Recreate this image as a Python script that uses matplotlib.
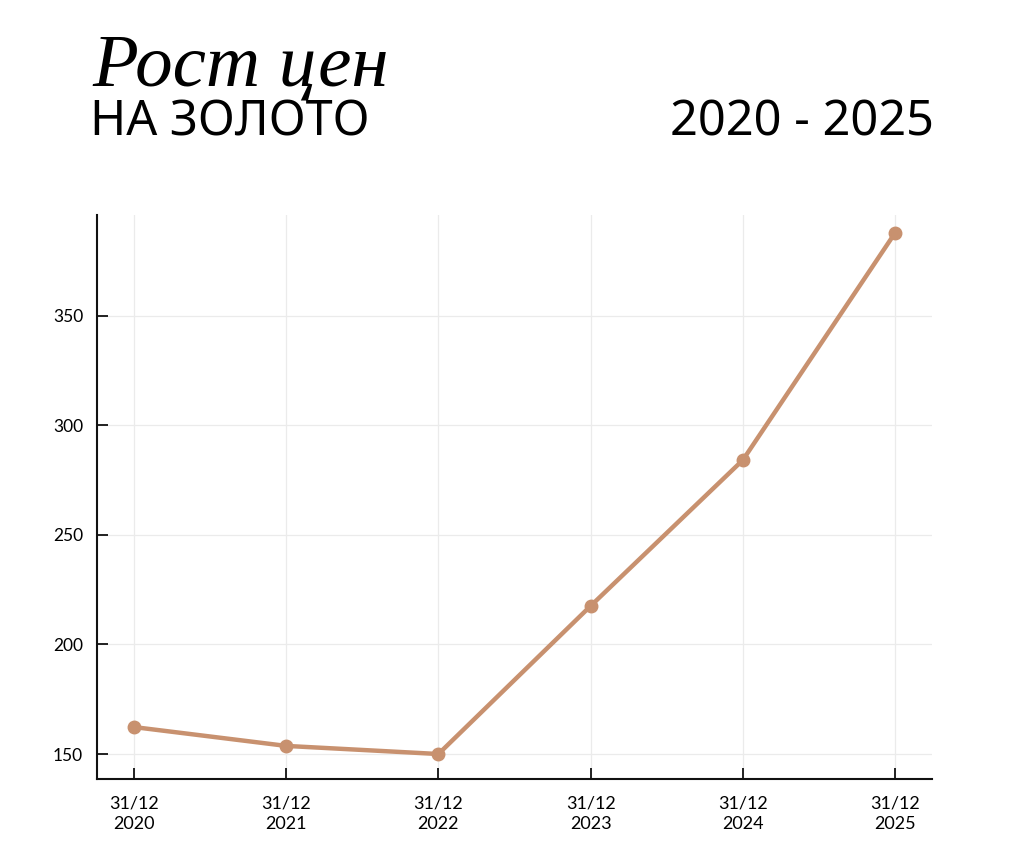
import matplotlib
matplotlib.use("Agg")
import matplotlib.pyplot as plt

years = ["2020", "2021", "2022", "2023", "2024", "2025"]
x_labels = ["31/12\n2020", "31/12\n2021", "31/12\n2022", "31/12\n2023", "31/12\n2024", "31/12\n2025"]
prices = [162.3, 153.7, 150.0, 217.6, 284.2, 387.9]
y_ticks = [150, 200, 250, 300, 350]

color = "#C8916F"

fig = plt.figure(figsize=(10.24, 8.64), dpi=100)
ax = fig.add_axes([0.0947, 0.0984, 0.8155, 0.6528])

xs = list(range(len(years)))
ax.plot(xs, prices, color=color, linewidth=3.2, marker="o", markersize=9, zorder=3)

ax.set_xlim(-0.243, 5.243)
ax.set_ylim(138.6, 396.1)
ax.set_xticks(xs)
ax.set_xticklabels(x_labels, fontsize=13, family="Lato", linespacing=1.35)
ax.set_yticks(y_ticks)
ax.set_yticklabels([str(v) for v in y_ticks], fontsize=12.5, family="Lato")

ax.grid(True, color="#EBEBEB", linewidth=0.9)
ax.set_axisbelow(True)
for s in ["top", "right"]:
    ax.spines[s].set_visible(False)
for s in ["left", "bottom"]:
    ax.spines[s].set_linewidth(1.5)
    ax.spines[s].set_color("#111111")
ax.tick_params(direction="in", length=8, width=1.3, color="#111111")
ax.tick_params(axis="x", pad=12)
ax.tick_params(axis="y", pad=10)

fig.text(0.090, 0.901, "Рост цен", fontsize=54, family="Liberation Serif", style="italic",
         ha="left", va="baseline")
fig.text(0.088, 0.843, "НА ЗОЛОТО", fontsize=35, family="Noto Sans",
         ha="left", va="baseline")
fig.text(0.912, 0.843, "2020 - 2025", fontsize=35, family="Noto Sans",
         ha="right", va="baseline")

fig.savefig("out.png", dpi=100, facecolor="white")
